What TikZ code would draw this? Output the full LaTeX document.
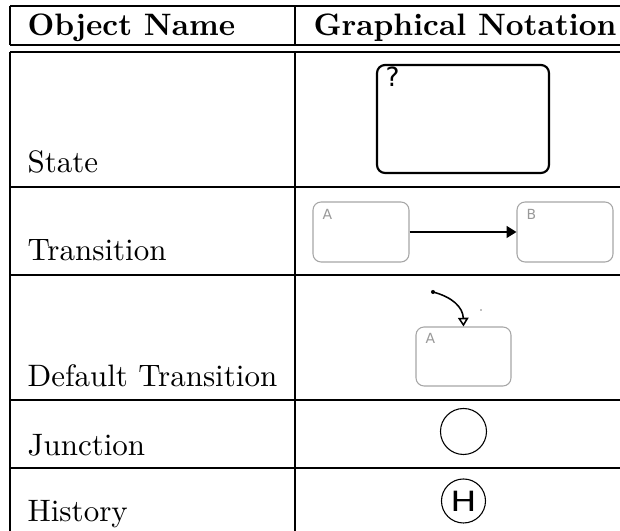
\documentclass[tikz,border=0pt]{standalone}
\usepackage{fontspec}
\newfontfamily\symfont{DejaVu Sans}
\newfontfamily\histfont[FakeStretch=1.25]{DejaVu Sans}
\usetikzlibrary{arrows.meta}
\definecolor{boxgray}{HTML}{A6A6A6}
\definecolor{labelgray}{HTML}{999999}
\tikzset{
  rule/.style={line width=0.4pt, black},
  rowlabel/.style={anchor=base west, inner sep=0pt, font=\fontsize{10}{12}\selectfont},
  headlabel/.style={anchor=base west, inner sep=0pt, font=\fontsize{10}{12}\selectfont\bfseries},
  statebox/.style={draw, line width=0.7pt, rounded corners=2.6pt, inner sep=0pt},
  lightbox/.style={draw=boxgray, line width=0.35pt, rounded corners=2.6pt, inner sep=0pt,
                   minimum width=30.97pt, minimum height=19.35pt},
  tag/.style={anchor=base west, inner sep=0pt, text=labelgray, font=\symfont\fontsize{4.5}{5}\selectfont},
  ring/.style={draw, circle, line width=0.35pt, inner sep=0pt},
}
\begin{document}
\begin{tikzpicture}[x=0.32258pt, y=-0.32258pt]
\useasboundingbox (0,0) rectangle (620,531);

% table rules
\draw[rule] (10,6) -- (620,6);
\draw[rule] (10,45) -- (620,45);
\draw[rule] (10,52) -- (620,52);
\draw[rule] (10,187) -- (620,187);
\draw[rule] (10,275) -- (620,275);
\draw[rule] (10,400) -- (620,400);
\draw[rule] (10,468) -- (620,468);
\draw[rule] (10,6) -- (10,45);
\draw[rule] (295,6) -- (295,45);
\draw[rule] (10,52) -- (10,531);
\draw[rule] (295,52) -- (295,531);

% header and row names
\node[headlabel] (hName) at (27,36) {Object Name};
\node[headlabel] (hNotation) at (313,36) {Graphical Notation};
\node[rowlabel] (lState) at (27,173) {State};
\node[rowlabel] (lTrans) at (27,261) {Transition};
\node[rowlabel] (lDefault) at (27,387) {Default Transition};
\node[rowlabel] (lJunction) at (27,456) {Junction};
\node[rowlabel] (lHistory) at (27,522) {History};

% state
\node[statebox, minimum width=55.48pt, minimum height=34.84pt] (state) at (463,119) {};
\node[anchor=base west, inner sep=0pt, font=\symfont\fontsize{8.5}{10}\selectfont] (stateq) at (385,87) {?};

% transition
\node[lightbox] (ta) at (361,232) {};
\node[lightbox] (tb) at (565,232) {};
\node[tag] (taLabel) at (322,220) {A};
\node[tag] (tbLabel) at (526,220) {B};
\draw[line width=0.4pt, -{Triangle[length=3.2pt,width=3.9pt]}] (ta.east) -- (tb.west);

% default transition
\node[lightbox, minimum width=30.65pt, minimum height=19.03pt] (da) at (463.5,356.5) {};
\node[tag] (daLabel) at (425,344) {A};
\coordinate (dsrc) at (433,292);
\fill (dsrc) circle[radius=0.65pt];
\draw[line width=0.5pt, -{Triangle[open,length=2.8pt,width=3.4pt]}]
  (dsrc) .. controls (452,297) and (463,307) .. (da.north);
\coordinate (speck) at (481,310);
\fill[gray] (speck) circle[radius=0.25pt];

% junction and history
\node[ring, minimum size=14.84pt] (junction) at (463.5,431.5) {};
\node[ring, minimum size=14.2pt, font=\histfont\fontsize{9}{10}\selectfont] (history) at (463.5,501) {H};
\end{tikzpicture}
\end{document}
